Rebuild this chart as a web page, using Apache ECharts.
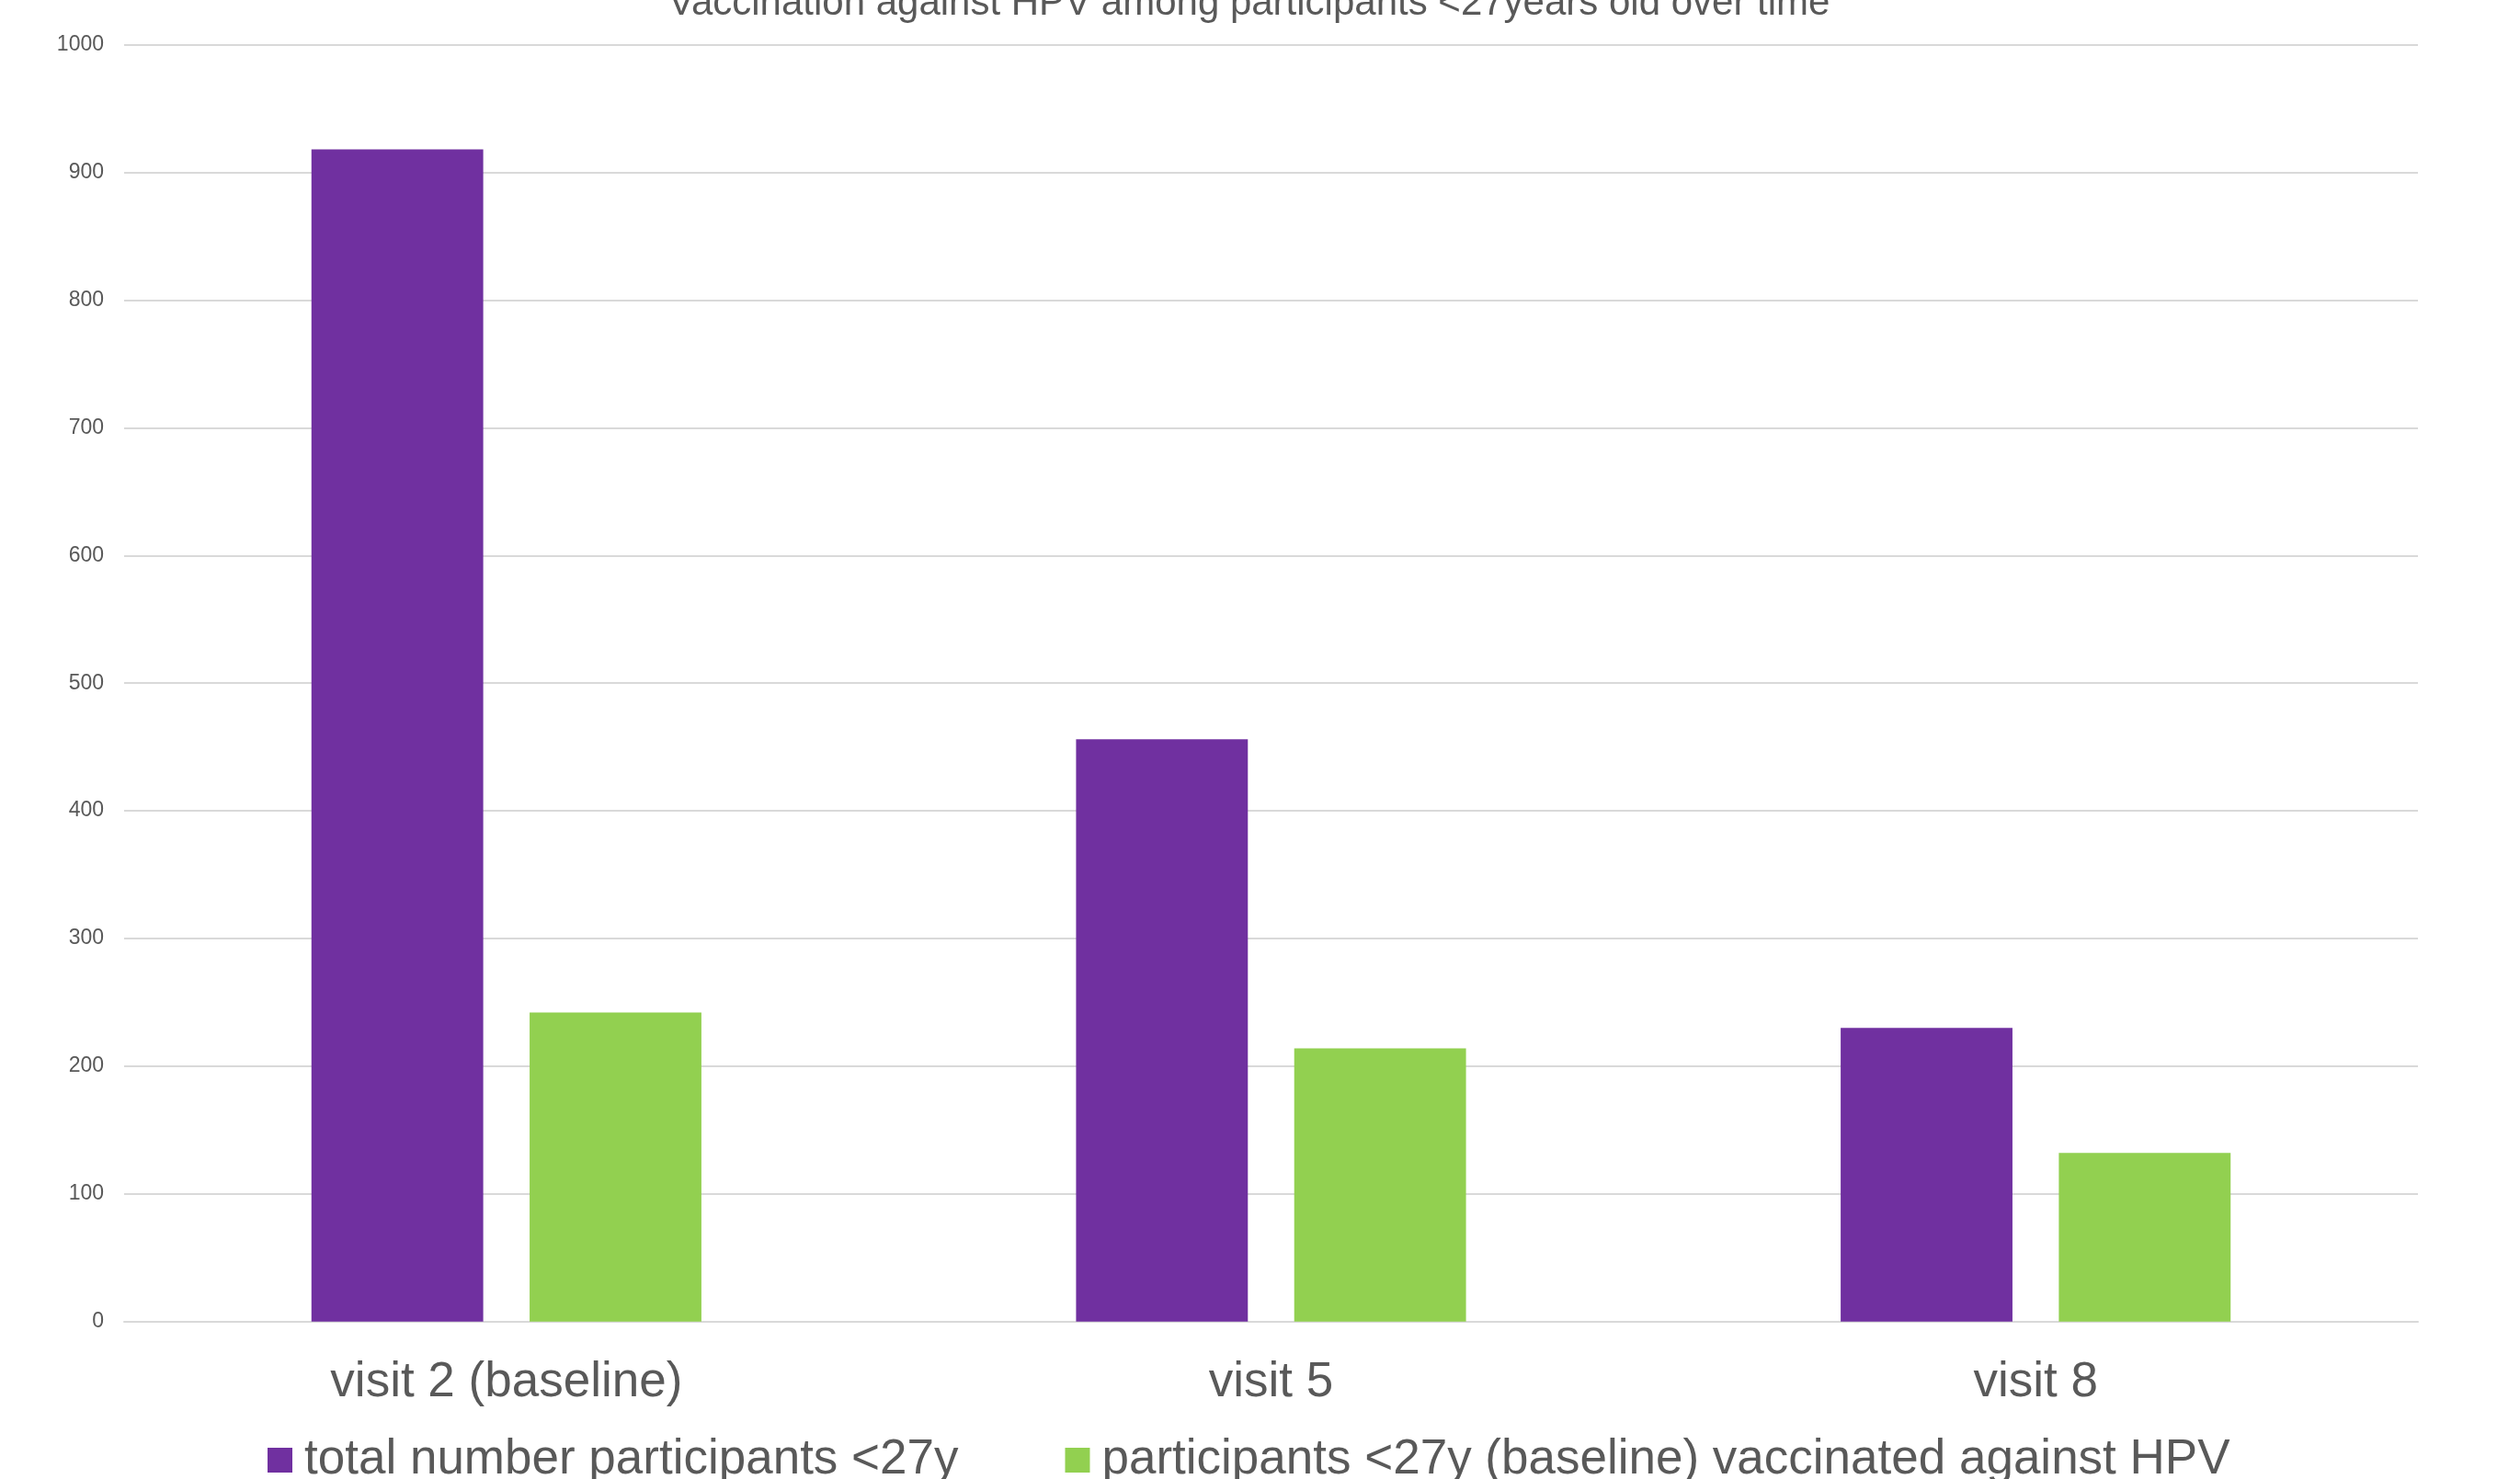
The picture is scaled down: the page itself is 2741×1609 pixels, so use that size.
<!DOCTYPE html>
<html>
<head>
<meta charset="utf-8">
<script src="https://cdn.jsdelivr.net/npm/echarts@6/dist/echarts.min.js"></script>
<style>
html,body{margin:0;padding:0;background:#fff;}
#chart{width:2741px;height:1609px;}
</style>
</head>
<body>
<div id="chart"></div>
<script>
const titleText = "Vaccination against HPV among participants <27years old over time";
const categories = ["visit 2 (baseline)", "visit 5", "visit 8"];
const seriesNames = ["total number participants <27y", "participants <27y (baseline) vaccinated against HPV"];
const totalParticipants = [918, 456, 230];
const vaccinated = [242, 214, 132];
const yTicks = [0, 100, 200, 300, 400, 500, 600, 700, 800, 900, 1000];

const chart = echarts.init(document.getElementById('chart'), null, {renderer: 'canvas'});
const font = "'Liberation Sans', Arial, sans-serif";
chart.setOption({
  backgroundColor: '#ffffff',
  animation: false,
  title: {
    text: titleText,
    left: 722,
    top: -22,
    textStyle: {color: '#595959', fontSize: 42, fontWeight: 'normal', fontFamily: font}
  },
  legend: {
    left: 286,
    top: 1557,
    itemWidth: 27,
    itemHeight: 27,
    itemGap: 116,
    icon: 'rect',
    textStyle: {color: '#595959', fontSize: 53, fontFamily: font, padding: [0, 0, 0, 8]},
    data: seriesNames
  },
  grid: {left: 135, right: 111, top: 48.7, bottom: 171.3, containLabel: false},
  xAxis: {
    type: 'category',
    data: categories,
    axisLine: {show: true, lineStyle: {color: '#d9d9d9', width: 2}},
    axisTick: {show: false},
    axisLabel: {color: '#595959', fontSize: 53, fontFamily: font, margin: 40}
  },
  yAxis: {
    type: 'value',
    min: yTicks[0],
    max: yTicks[yTicks.length - 1],
    interval: yTicks[1] - yTicks[0],
    axisLine: {show: false},
    axisTick: {show: false},
    splitLine: {lineStyle: {color: '#d9d9d9', width: 2}},
    axisLabel: {color: '#595959', fontSize: 23, fontFamily: font, margin: 22, formatter: function (v) { return String(v); }}
  },
  series: [
    {
      name: seriesNames[0],
      type: 'bar',
      data: totalParticipants,
      barGap: '27%',
      barCategoryGap: '49%',
      itemStyle: {color: '#7030a0'}
    },
    {
      name: seriesNames[1],
      type: 'bar',
      data: vaccinated,
      barGap: '27%',
      barCategoryGap: '49%',
      itemStyle: {color: '#92d050'}
    }
  ]
});
</script>
</body>
</html>
